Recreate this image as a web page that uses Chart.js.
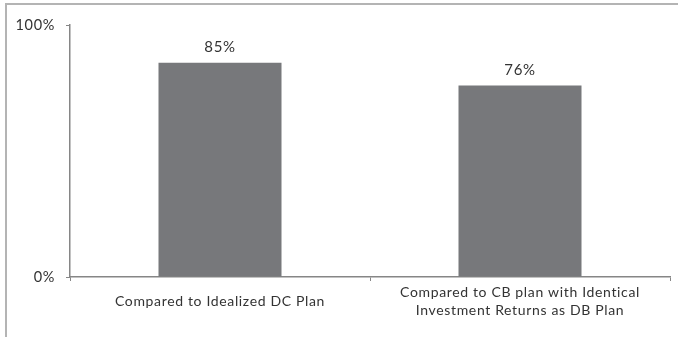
<!DOCTYPE html>
<html>
<head>
<meta charset="utf-8">
<script src="https://cdn.jsdelivr.net/npm/chart.js@4/dist/chart.umd.min.js"></script>
<style>
    html, body { margin: 0; padding: 0; background: #fff; }
    .frame {
        position: absolute;
        left: 5px;
        top: 3px;
        width: 673px;
        height: 334px;
        border-top: 2px solid #b4b4b4;
        border-left: 2px solid #b4b4b4;
        box-sizing: border-box;
    }
    .wrap { position: absolute; left: 0; top: 0; width: 678px; height: 337px; }
</style>
</head>
<body>
<div class="frame"></div>
<div class="wrap"><canvas id="ratioChart" width="678" height="337"></canvas></div>
<script>
// Categories and values
const categories = [
    ['Compared to Idealized DC Plan'],
    ['Compared to CB plan with Identical', 'Investment Returns as DB Plan']
];
const ratios = [0.85, 0.76];
const yTicks = [0, 1];

const FONT = 'Lato, "Open Sans", sans-serif';
const TEXT = '#333333';
const AXIS = '#868686';

// wider tracking for all canvas text
const tracking = {
    id: 'tracking',
    beforeInit(chart) { chart.ctx.letterSpacing = '0.65px'; },
    beforeUpdate(chart) { chart.ctx.letterSpacing = '0.65px'; }
};

// Value labels above each bar
const valueLabels = {
    id: 'valueLabels',
    afterDatasetsDraw(chart) {
        const ctx = chart.ctx;
        const meta = chart.getDatasetMeta(0);
        ctx.save();
        ctx.font = '15px ' + FONT;
        ctx.fillStyle = TEXT;
        ctx.textAlign = 'center';
        ctx.textBaseline = 'bottom';
        meta.data.forEach((bar, i) => {
            const v = chart.data.datasets[0].data[i];
            ctx.fillText(Math.round(v * 100) + '%', bar.x, bar.y - 8);
        });
        ctx.restore();
    }
};

const ctx = document.getElementById('ratioChart').getContext('2d');
new Chart(ctx, {
    type: 'bar',
    data: {
        labels: categories,
        datasets: [{
            data: ratios,
            backgroundColor: '#77787b',
            borderWidth: 0,
            categoryPercentage: 0.41,
            barPercentage: 1
        }]
    },
    options: {
        responsive: false,
        animation: false,
        layout: { padding: { left: 0, right: 8, top: 25, bottom: 0 } },
        plugins: {
            legend: { display: false },
            tooltip: { enabled: false }
        },
        scales: {
            x: {
                grid: {
                    drawOnChartArea: false,
                    drawTicks: true,
                    tickLength: 4,
                    color: AXIS,
                    offset: true
                },
                border: { color: AXIS, width: 1.5 },
                ticks: {
                    color: TEXT,
                    font: { family: FONT, size: 14, lineHeight: 1.3 },
                    padding: 11,
                    crossAlign: 'center',
                    maxRotation: 0,
                    autoSkip: false
                },
                afterFit(scale) { scale.height = 60; }
            },
            y: {
                min: 0,
                max: 1,
                afterBuildTicks(scale) {
                    scale.ticks = yTicks.map(v => ({ value: v }));
                },
                grid: {
                    drawOnChartArea: false,
                    drawTicks: true,
                    tickLength: 4,
                    color: AXIS
                },
                border: { color: AXIS, width: 1.5 },
                ticks: {
                    color: TEXT,
                    font: { family: FONT, size: 14.5 },
                    padding: 11,
                    callback: v => Math.round(v * 100) + '%'
                },
                afterFit(scale) { scale.width = 70; }
            }
        }
    },
    plugins: [tracking, valueLabels]
});
</script>
</body>
</html>
